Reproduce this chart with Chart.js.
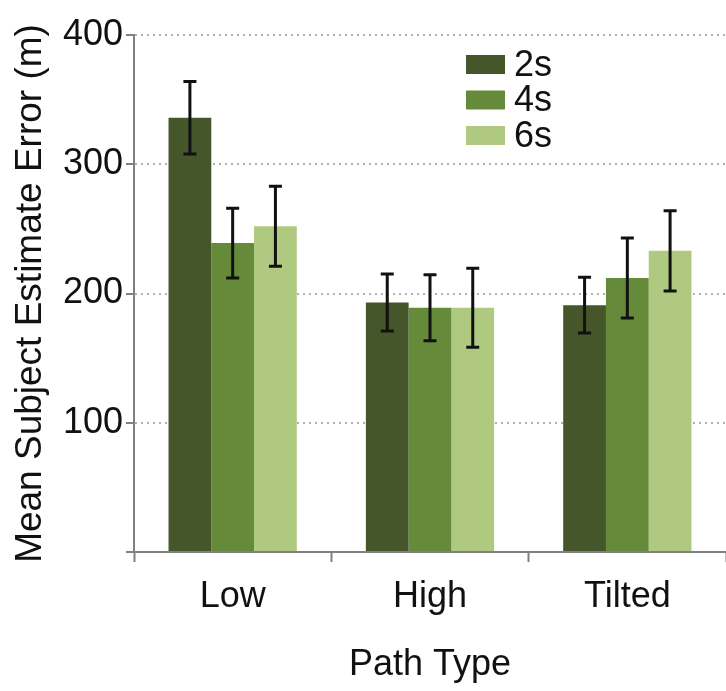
<!DOCTYPE html>
<html>
<head>
<meta charset="utf-8">
<script src="https://cdn.jsdelivr.net/npm/chart.js@4.4.0/dist/chart.umd.min.js"></script>
<style>
  html, body { margin: 0; padding: 0; background: #fff; overflow: hidden; }
  #wrap { width: 726px; height: 691px; }
</style>
</head>
<body>
<div id="wrap"><canvas id="barChart"></canvas></div>
<script>
const categories = ["Low", "High", "Tilted"];
const seriesLabels = ["2s", "4s", "6s"];
const mean2s = [336, 193, 191];
const mean4s = [239, 189, 212];
const mean6s = [252, 189, 233];
// half-width of the error bars
const err2s = [28, 22, 21.5];
const err4s = [27, 25.5, 31];
const err6s = [31, 30.5, 31];
const yTicks = [0, 100, 200, 300, 400];

const colors = ["#44562a", "#658a3a", "#afca80"];
const fontFamily = "'Liberation Sans', Arial, sans-serif";

const errorBars = {
  id: "errorBars",
  afterDatasetsDraw(chart) {
    const ctx = chart.ctx;
    const y = chart.scales.y;
    ctx.save();
    ctx.strokeStyle = "#111";
    ctx.lineWidth = 3;
    chart.data.datasets.forEach((ds, i) => {
      chart.getDatasetMeta(i).data.forEach((bar, j) => {
        const top = y.getPixelForValue(ds.data[j] + ds.errors[j]);
        const bottom = y.getPixelForValue(ds.data[j] - ds.errors[j]);
        const x = bar.x;
        ctx.beginPath();
        ctx.moveTo(x, top);
        ctx.lineTo(x, bottom);
        ctx.moveTo(x - 6.5, top);
        ctx.lineTo(x + 6.5, top);
        ctx.moveTo(x - 6.5, bottom);
        ctx.lineTo(x + 6.5, bottom);
        ctx.stroke();
      });
    });
    ctx.restore();
  },
};

// legend stacked inside the plot, top middle
const boxLegend = {
  id: "boxLegend",
  afterDraw(chart) {
    const ctx = chart.ctx;
    ctx.save();
    ctx.font = "36px " + fontFamily;
    ctx.textBaseline = "middle";
    chart.data.datasets.forEach((ds, i) => {
      const top = 55 + i * 35.5;
      ctx.fillStyle = ds.backgroundColor;
      ctx.fillRect(466, top, 39, 19);
      ctx.fillStyle = "#111";
      ctx.fillText(ds.label, 514, top + 11);
    });
    ctx.restore();
  },
};

const dataBar = {
  labels: categories,
  datasets: [
    { label: seriesLabels[0], data: mean2s, errors: err2s, backgroundColor: colors[0] },
    { label: seriesLabels[1], data: mean4s, errors: err4s, backgroundColor: colors[1] },
    { label: seriesLabels[2], data: mean6s, errors: err6s, backgroundColor: colors[2] },
  ],
};

const configBar = {
  type: "bar",
  data: dataBar,
  plugins: [errorBars, boxLegend],
  options: {
    animation: false,
    responsive: true,
    maintainAspectRatio: false,
    events: [],
    layout: { padding: { top: 35, right: 0, bottom: 0, left: 0 } },
    datasets: {
      bar: { categoryPercentage: 0.65, barPercentage: 1.0, borderWidth: 0 },
    },
    plugins: {
      legend: { display: false },
      tooltip: { enabled: false },
    },
    scales: {
      x: {
        grid: {
          drawOnChartArea: false,
          drawTicks: true,
          tickLength: 10,
          tickWidth: 2,
          tickColor: "#808080",
          offset: true,
        },
        border: { color: "#808080", width: 2 },
        ticks: {
          color: "#111",
          padding: 13,
          font: { family: fontFamily, size: 36 },
        },
        title: {
          display: true,
          text: "Path Type",
          color: "#111",
          font: { family: fontFamily, size: 36 },
          padding: { top: 0, bottom: 4 },
        },
        afterFit: (scale) => { scale.height = 139; },
      },
      y: {
        min: 0,
        max: 400,
        afterBuildTicks: (scale) => {
          scale.ticks = yTicks.map((v) => ({ value: v }));
        },
        grid: {
          color: (c) => (c.tick && c.tick.value === 0 ? "rgba(0,0,0,0)" : "#b0b0b0"),
          lineWidth: 2,
          tickLength: 8,
          tickWidth: 2,
          tickColor: "#808080",
        },
        border: { color: "#808080", width: 2, dash: [2, 4] },
        ticks: {
          color: "#111",
          padding: 3,
          font: { family: fontFamily, size: 36 },
          callback: (value) => (value === 0 ? "" : value),
        },
        title: {
          display: true,
          text: "Mean Subject Estimate Error (m)",
          color: "#111",
          font: { family: fontFamily, size: 37 },
          padding: { top: 9, bottom: 0 },
        },
        afterFit: (scale) => { scale.width = 134; },
      },
    },
  },
};

const myBarChart = new Chart(document.getElementById("barChart"), configBar);
</script>
</body>
</html>
